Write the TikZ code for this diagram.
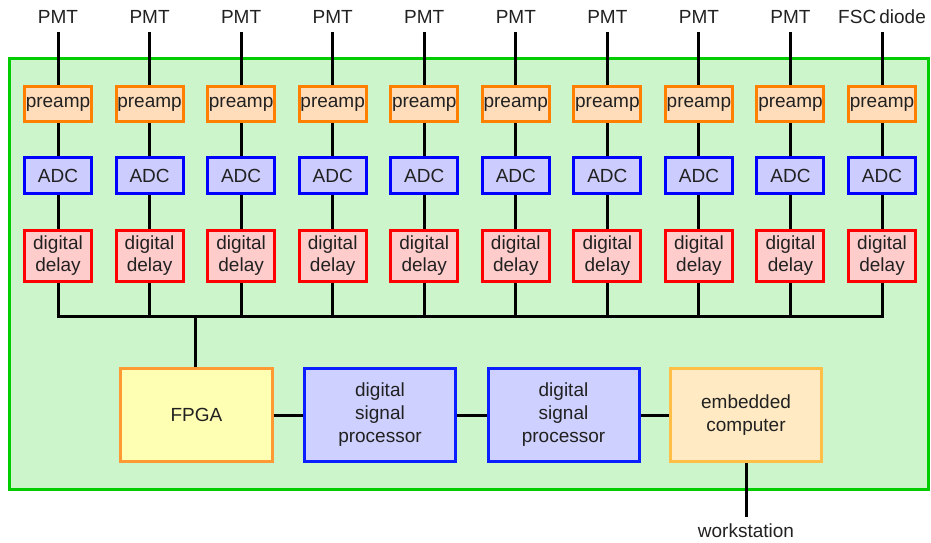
\documentclass[tikz,border=0pt]{standalone}
\usepackage{fontspec}
\setmainfont{Liberation Sans}
\begin{document}
\begin{tikzpicture}[x=1pt,y=-1pt,
  every node/.style={font=\fontsize{19}{23}\selectfont, text=black!87},
  conn/.style={line width=3pt, black},
  blk/.style={draw, line width=3pt, align=center, inner sep=0pt},
  prebox/.style={blk, draw={rgb,255:red,255;green,128;blue,0}, fill={rgb,255:red,255;green,221;blue,187}, minimum width=67pt, minimum height=35pt},
  adcbox/.style={blk, draw={rgb,255:red,0;green,0;blue,255}, fill={rgb,255:red,204;green,204;blue,255}, minimum width=67pt, minimum height=36pt},
  delbox/.style={blk, draw={rgb,255:red,255;green,0;blue,0}, fill={rgb,255:red,255;green,204;blue,204}, minimum width=67pt, minimum height=51pt},
  fpgabox/.style={blk, draw={rgb,255:red,255;green,153;blue,51}, fill={rgb,255:red,255;green,255;blue,180}, minimum width=152pt, minimum height=93pt},
  dspbox/.style={blk, draw={rgb,255:red,10;green,30;blue,255}, fill={rgb,255:red,206;green,208;blue,255}, minimum width=151pt, minimum height=93pt},
  compbox/.style={blk, draw={rgb,255:red,255;green,190;blue,70}, fill={rgb,255:red,255;green,234;blue,196}, minimum width=151pt, minimum height=93pt},
  toplabel/.style={anchor=south, inner sep=0pt, text depth=8pt},
]
\useasboundingbox (0,0) rectangle (931,542);
% green board
\draw[line width=3pt, draw={rgb,255:red,0;green,204;blue,0}, fill={rgb,255:red,204;green,245;blue,204}] (9.5,58.5) rectangle (928.5,489.5);

\foreach \i/\lab in {1/PMT,2/PMT,3/PMT,4/PMT,5/PMT,6/PMT,7/PMT,8/PMT,9/PMT,10/FSC\,diode} {
  \pgfmathsetmacro{\cx}{58+91.56*(\i-1)}
  \node[toplabel] (lab\i) at (\cx,32) {\lab};
  \node[prebox] (pre\i) at (\cx,104) {preamp};
  \node[adcbox] (adc\i) at (\cx,175.5) {ADC};
  \node[delbox] (del\i) at (\cx,256) {digital\\[-1pt]delay};
  \draw[conn] (lab\i.south) -- (pre\i.north);
  \draw[conn] (pre\i.south) -- (adc\i.north);
  \draw[conn] (adc\i.south) -- (del\i.north);
}
\coordinate (bus) at (0,316);
\draw[conn, line join=miter] (del1.south) |- (del10.south |- bus) -- (del10.south);
\foreach \i in {2,...,9} {
  \draw[conn] (del\i.south) -- (del\i.south |- bus);
}

\node[fpgabox] (fpga) at (196.5,415) {FPGA};
\node[dspbox] (dsp1) at (380,415) {digital\\signal\\processor};
\node[dspbox] (dsp2) at (563.5,415) {digital\\signal\\processor};
\node[compbox] (comp) at (746,415) {embedded\\computer};
\node[anchor=north, inner sep=0pt, text height=20pt] (ws) at (746,517) {workstation};

\draw[conn] ([xshift=-1.5pt]fpga.north) -- ([xshift=-1.5pt]fpga.north |- bus);
\draw[conn] (fpga.east) -- (dsp1.west);
\draw[conn] (dsp1.east) -- (dsp2.west);
\draw[conn] (dsp2.east) -- (comp.west);
\draw[conn] (comp.south) -- (ws.north);
\end{tikzpicture}
\end{document}
